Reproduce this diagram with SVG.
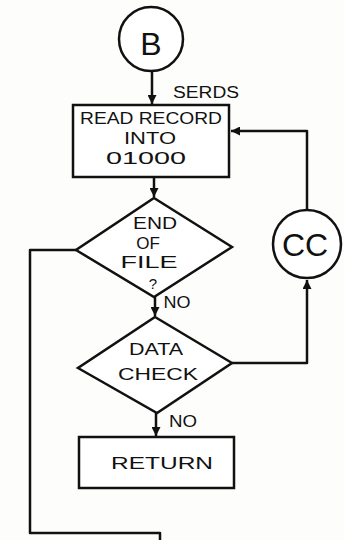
<svg xmlns="http://www.w3.org/2000/svg" width="344" height="540" viewBox="0 0 344 540">
<defs>
<style>
.s{fill:none;stroke:#111;stroke-width:2.5;stroke-linejoin:round}
.n{fill:#fff;stroke:#111;stroke-width:2.5}
.t{font-family:"Liberation Sans",Arial,sans-serif;fill:#111;text-anchor:middle}
</style>
<marker id="ah" viewBox="0 0 10 10" refX="10" refY="5" markerWidth="4.5" markerHeight="3.6" orient="auto-start-reverse">
<path d="M0,0 L10,5 L0,10 z" fill="#111"/>
</marker>
</defs>
<rect width="344" height="540" fill="#fdfdfb"/>
<g id="connectors">
<line class="s" x1="152" y1="72" x2="152" y2="104" marker-end="url(#ah)"/>
<line class="s" x1="154" y1="177" x2="154" y2="197" marker-end="url(#ah)"/>
<line class="s" x1="155" y1="297" x2="155" y2="316" marker-end="url(#ah)"/>
<line class="s" x1="156" y1="413" x2="156" y2="436" marker-end="url(#ah)"/>
<polyline class="s" points="232,363 307,363 307,280" marker-end="url(#ah)"/>
<polyline class="s" points="307,210 307,131 231,131" marker-end="url(#ah)"/>
<polyline class="s" points="76,250 30,250 30,533 160,533 160,540"/>
</g>
<g id="B">
<circle class="n" cx="151" cy="39" r="32"/>
<text class="t" x="151" y="55" font-size="32">B</text>
</g>
<text class="t" x="206" y="98" font-size="16" textLength="66" lengthAdjust="spacingAndGlyphs">SERDS</text>
<g id="read">
<rect class="n" x="73" y="105" width="156" height="72"/>
<text class="t" x="151" y="124" font-size="16" textLength="142" lengthAdjust="spacingAndGlyphs">READ RECORD</text>
<text class="t" x="150" y="144" font-size="16" textLength="52" lengthAdjust="spacingAndGlyphs">INTO</text>
<text class="t" x="146" y="164" font-size="16" textLength="80" lengthAdjust="spacingAndGlyphs">01000</text>
</g>
<g id="eof">
<polygon class="n" points="154,198 232,247 154,297 76,250"/>
<text class="t" x="155" y="229" font-size="17" textLength="44" lengthAdjust="spacingAndGlyphs">END</text>
<text class="t" x="148" y="249" font-size="17">OF</text>
<text class="t" x="149" y="268" font-size="17" textLength="57" lengthAdjust="spacingAndGlyphs">FILE</text>
<text class="t" x="153" y="289" font-size="15">?</text>
</g>
<text class="t" x="177" y="308" font-size="17" textLength="27" lengthAdjust="spacingAndGlyphs">NO</text>
<g id="datacheck">
<polygon class="n" points="155,317 232,363 157,413 78,368"/>
<text class="t" x="156" y="355" font-size="17" textLength="54" lengthAdjust="spacingAndGlyphs">DATA</text>
<text class="t" x="158" y="380" font-size="16" textLength="80" lengthAdjust="spacingAndGlyphs">CHECK</text>
</g>
<text class="t" x="183" y="427" font-size="17" textLength="28" lengthAdjust="spacingAndGlyphs">NO</text>
<g id="return">
<rect class="n" x="79" y="437" width="155" height="51"/>
<text class="t" x="162" y="469" font-size="17" textLength="102" lengthAdjust="spacingAndGlyphs">RETURN</text>
</g>
<g id="CC">
<circle class="n" cx="307" cy="244" r="34"/>
<text class="t" x="305" y="256" font-size="32">CC</text>
</g>
</svg>
